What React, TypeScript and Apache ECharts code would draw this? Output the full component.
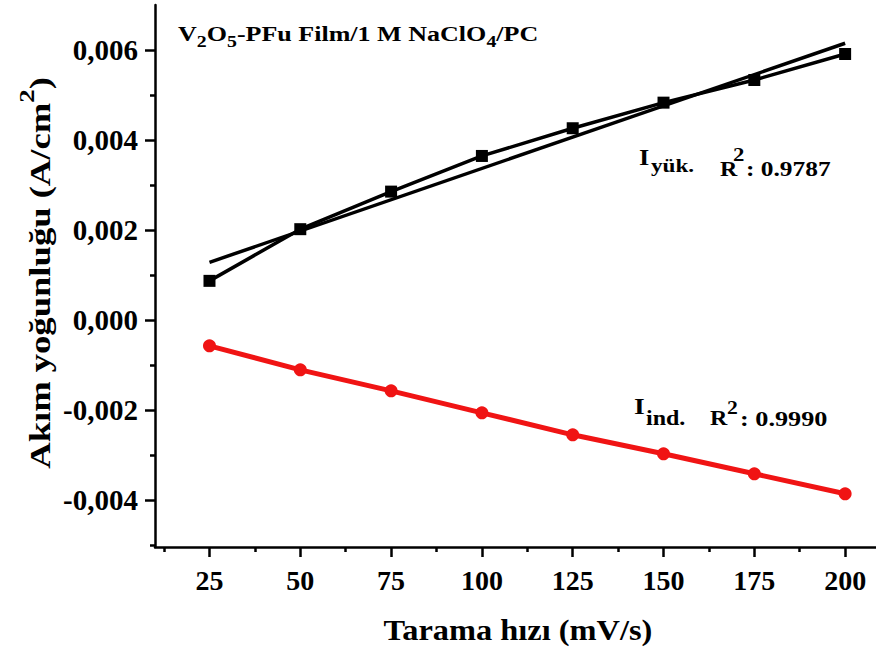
import React, { useEffect, useRef } from "react";
import * as echarts from "echarts";

// Scan rate (mV/s) and current density (A/cm²) readings
const scanRates = [25, 50, 75, 100, 125, 150, 175, 200];
const chargeCurrent = [0.000867, 0.002016, 0.002851, 0.003644, 0.00426, 0.004829, 0.005333, 0.005911];
const dischargeCurrent = [-0.000578, -0.001111, -0.001578, -0.002067, -0.002556, -0.002978, -0.003422, -0.003867];

// Axis ticks
const xMajorTicks = [25, 50, 75, 100, 125, 150, 175, 200];
const xMinorTicks = [12.5, 37.5, 62.5, 87.5, 112.5, 137.5, 162.5, 187.5];
const yMajorTicks = [-0.004, -0.002, 0, 0.002, 0.004, 0.006];
const yMinorTicks = [-0.005, -0.003, -0.001, 0.001, 0.003, 0.005];

const X_MIN = 10;
const X_MAX = 208.5;
const Y_MIN = -0.00505;
const Y_MAX = 0.007;

const FONT = '"Liberation Serif", "Times New Roman", serif';
const RED = "#f01414";

// Least-squares line through the charge-current points
function linearFit(xs: number[], ys: number[]) {
  const n = xs.length;
  const mx = xs.reduce((a, b) => a + b, 0) / n;
  const my = ys.reduce((a, b) => a + b, 0) / n;
  let sxy = 0;
  let sxx = 0;
  for (let i = 0; i < n; i++) {
    sxy += (xs[i] - mx) * (ys[i] - my);
    sxx += (xs[i] - mx) * (xs[i] - mx);
  }
  const slope = sxy / sxx;
  return (x: number) => my + slope * (x - mx);
}

const GRID = { left: 155, top: 5, right: 0, bottom: 105 };

function label(text: string, x: number, y: number, fontSize: number, scaleX: number) {
  return {
    type: "text",
    x,
    y,
    scaleX,
    style: {
      text,
      fontSize,
      fontWeight: "bold",
      fontFamily: FONT,
      fill: "#000",
      textVerticalAlign: "middle",
      verticalAlign: "middle",
    },
  };
}

export default function App() {
  const ref = useRef<HTMLDivElement>(null);

  useEffect(() => {
    if (!ref.current) return;
    const chart = echarts.init(ref.current, undefined, { renderer: "svg" });
    const fit = linearFit(scanRates, chargeCurrent);
    const first = scanRates[0];
    const last = scanRates[scanRates.length - 1];

    const axisLine = { show: true, onZero: false, lineStyle: { color: "#000", width: 2.5 } };

    const option: echarts.EChartsOption = {
      animation: false,
      backgroundColor: "#fff",
      grid: [
        { ...GRID, containLabel: false },
        { ...GRID, containLabel: false },
      ],
      xAxis: [
        {
          type: "value",
          gridIndex: 0,
          min: X_MIN,
          max: X_MAX,
          axisLine,
          axisTick: { show: true, customValues: xMajorTicks, length: 10, inside: false, lineStyle: { color: "#000", width: 2.5 } },
          axisLabel: {
            customValues: xMajorTicks,
            color: "#000",
            fontSize: 28,
            fontWeight: "bold",
            fontFamily: FONT,
            margin: 19,
          },
          splitLine: { show: false },
        },
        {
          type: "value",
          gridIndex: 1,
          min: X_MIN,
          max: X_MAX,
          axisLine: { show: false, onZero: false },
          axisTick: { show: true, customValues: xMinorTicks, length: 5, inside: false, lineStyle: { color: "#000", width: 2.5 } },
          axisLabel: { show: false },
          splitLine: { show: false },
        },
      ],
      yAxis: [
        {
          type: "value",
          gridIndex: 0,
          min: Y_MIN,
          max: Y_MAX,
          axisLine,
          axisTick: { show: true, customValues: yMajorTicks, length: 10, inside: false, lineStyle: { color: "#000", width: 2.5 } },
          axisLabel: {
            customValues: yMajorTicks,
            color: "#000",
            fontSize: 29,
            fontWeight: "bold",
            fontFamily: FONT,
            margin: 17,
            formatter: (v: number) => v.toFixed(3).replace(".", ","),
          },
          splitLine: { show: false },
        },
        {
          type: "value",
          gridIndex: 1,
          min: Y_MIN,
          max: Y_MAX,
          axisLine: { show: false, onZero: false },
          axisTick: { show: true, customValues: yMinorTicks, length: 5, inside: false, lineStyle: { color: "#000", width: 2.5 } },
          axisLabel: { show: false },
          splitLine: { show: false },
        },
      ],
      series: [
        {
          name: "fit",
          type: "line",
          xAxisIndex: 0,
          yAxisIndex: 0,
          data: [
            [first, fit(first)],
            [last, fit(last)],
          ],
          symbol: "none",
          lineStyle: { color: "#000", width: 3.5 },
          z: 2,
        },
        {
          name: "Iyük",
          type: "line",
          xAxisIndex: 0,
          yAxisIndex: 0,
          data: scanRates.map((x, i) => [x, chargeCurrent[i]]),
          symbol: "rect",
          symbolSize: 12,
          itemStyle: { color: "#000" },
          lineStyle: { color: "#000", width: 3.5 },
          z: 3,
        },
        {
          name: "Iind",
          type: "line",
          xAxisIndex: 0,
          yAxisIndex: 0,
          data: scanRates.map((x, i) => [x, dischargeCurrent[i]]),
          symbol: "circle",
          symbolSize: 13,
          itemStyle: { color: RED },
          lineStyle: { color: RED, width: 5 },
          z: 3,
        },
      ],
      graphic: [
        // Electrolyte / film label
        {
          type: "text",
          x: 178,
          y: 18,
          scaleX: 1.24,
          style: {
            text: "{n|V}{s|2}{n|O}{s|5}{n|-PFu Film/1 M NaClO}{s|4}{n|/PC}",
            textVerticalAlign: "top",
            verticalAlign: "top",
            fill: "#000",
            rich: {
              n: { fontSize: 21, fontWeight: "bold", fontFamily: FONT, lineHeight: 32, verticalAlign: "middle", fill: "#000" },
              s: { fontSize: 16, fontWeight: "bold", fontFamily: FONT, lineHeight: 16, verticalAlign: "bottom", fill: "#000" },
            },
          },
        },
        // Charge current annotation
        label("I", 639, 157.5, 23, 1.15),
        label("yük.", 651, 166, 19, 1.22),
        label("R", 720, 169.5, 20, 1.2),
        label("2", 733, 155, 19, 1.2),
        label(": 0.9787", 746, 169.5, 20, 1.27),
        // Discharge current annotation
        label("I", 634, 406, 24, 1.15),
        label("ind.", 646, 418, 20, 1.2),
        label("R", 710, 418.5, 20, 1.2),
        label("2", 727, 408, 18, 1.2),
        label(": 0.9990", 740, 418.5, 21, 1.25),
        // Axis titles
        {
          type: "text",
          x: 518,
          y: 630,
          scaleX: 1.08,
          style: { text: "Tarama hızı (mV/s)", fontSize: 30, fontWeight: "bold", fontFamily: FONT, fill: "#000", textAlign: "center", align: "center", textVerticalAlign: "middle", verticalAlign: "middle" },
        },
        {
          type: "text",
          x: 35,
          y: 273,
          rotation: Math.PI / 2,
          scaleX: 1.22,
          style: {
            text: "{n|Akım yoğunluğu (A/cm}{p|2}{n|)}",
            textAlign: "center",
            align: "center",
            textVerticalAlign: "middle",
            verticalAlign: "middle",
            fill: "#000",
            rich: {
              n: { fontSize: 30, fontWeight: "bold", fontFamily: FONT, lineHeight: 40, verticalAlign: "bottom", fill: "#000" },
              p: { fontSize: 22, fontWeight: "bold", fontFamily: FONT, lineHeight: 22, verticalAlign: "top", fill: "#000" },
            },
          },
        },
      ],
    };

    chart.setOption(option);
    return () => chart.dispose();
  }, []);

  return <div ref={ref} style={{ position: "absolute", left: 0, top: 0, width: 876, height: 652 }} />;
}
